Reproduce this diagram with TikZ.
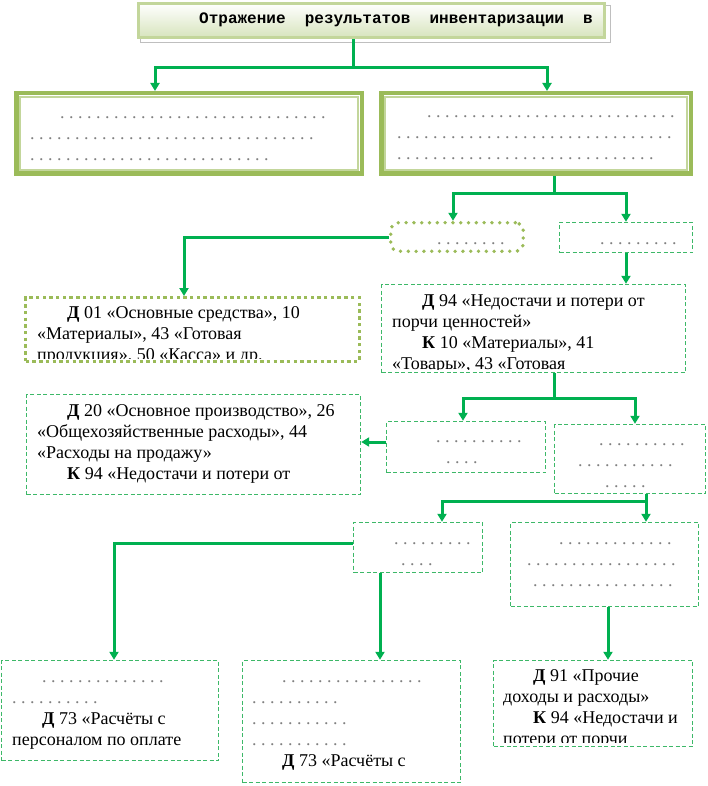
\documentclass[tikz,border=0pt]{standalone}
\usepackage{fontspec}
\setmainfont{Liberation Serif}
\newfontfamily\monofont{Liberation Mono}
\usetikzlibrary{arrows.meta,positioning,shapes}
\definecolor{linegreen}{HTML}{00B050}
\definecolor{dashgreen}{HTML}{3DB868}
\definecolor{olivegreen}{HTML}{9BBB59}
\definecolor{palegreen}{HTML}{C3D69B}
\definecolor{fadegreen}{HTML}{D7E4BD}
\definecolor{dotgray}{HTML}{808080}
\newcommand{\dotrow}[1]{\textcolor{dotgray}{\foreach \k in {1,...,#1}{.\hspace{4.5pt}}}}
\newcommand{\ind}{\hspace*{30pt}}
\begin{document}
\begin{tikzpicture}[x = 1pt, y = -1pt,
  conn/.style = {draw = linegreen, line width = 3pt, -{Triangle[width=9pt,length=8pt]}},
  dashbox/.style = {draw = dashgreen, line width = 1.4pt, dash pattern = on 4pt off 2.5pt},
  bigbox/.style = {draw = olivegreen, line width = 4.5pt},
  dotround/.style = {draw = olivegreen, line width = 3.8pt, line cap = round, dash pattern = on 0pt off 7.8pt, rounded corners = 8pt},
  dotsquare/.style = {draw = olivegreen, line width = 3.4pt, dash pattern = on 3.4pt off 3.3pt},
  txt/.style = {anchor = base west, align = left, inner sep = 0pt, font = \fontsize{18}{21}\selectfont}]
\useasboundingbox (0,0) rectangle (707,786);
% title
\draw[black!25, line width = 0.8pt] (140,5) rectangle (610,42);
\node[draw = palegreen, line width = 3pt, top color = white, bottom color = fadegreen, minimum width = 466pt, minimum height = 34pt] (title) at (371.5,20.5) {};
\node[anchor = base west, inner sep = 0pt, font = \monofont\bfseries\fontsize{16}{18}\selectfont] (titletext) at (199,24) {Отражение~~результатов~~инвентаризации~~в};
% two cases
\node[bigbox, minimum width = 345.5pt, minimum height = 80.5pt] (surcase) at (189,133.5) {};
\node[bigbox, minimum width = 309.5pt, minimum height = 80.5pt] (shortcase) at (536,133.5) {};
\draw[palegreen, line width = 1.2pt] ([shift={(6,6)}]surcase.north west) rectangle ([shift={(-6,-6)}]surcase.south east);
\draw[palegreen, line width = 1.2pt] ([shift={(6,6)}]shortcase.north west) rectangle ([shift={(-6,-6)}]shortcase.south east);
\node[txt] (surcasetxt) at (30,161) {\ind\dotrow{30}\\\dotrow{32}\\\dotrow{27}};
\node[txt] (shortcasetxt) at (397,160) {\ind\dotrow{28}\\\dotrow{31}\\\dotrow{29}};
% second level
\node[dotround, minimum width = 132.6pt, minimum height = 28.6pt] (surpost) at (457,237) {};
\node[txt] (surposttxt) at (437,244) {\dotrow{8}};
\node[dashbox, minimum width = 133pt, minimum height = 30pt] (shortpost) at (626,237.5) {};
\node[txt] (shortposttxt) at (600,244) {\dotrow{9}};
% entries
\node[dotsquare, minimum width = 333.5pt, minimum height = 63.5pt] (surplus) at (192.5,329.5) {};
\begin{scope}
\clip (surplus.north west) rectangle (surplus.south east |- 0,358);
\node[txt] (surplustxt) at (37,360) {\ind\textbf{Д} 01 «Основные средства», 10\\«Материалы», 43 «Готовая\\продукция», 50 «Касса» и др.};
\end{scope}
\node[dashbox, minimum width = 304pt, minimum height = 88pt] (shortage) at (533.5,328.5) {};
\begin{scope}
\clip (shortage.north west) rectangle (shortage.south east |- 0,369);
\node[txt] (shortagetxt) at (392,369) {\ind\textbf{Д} 94 «Недостачи и потери от\\порчи ценностей»\\\ind\textbf{К} 10 «Материалы», 41\\«Товары», 43 «Готовая};
\end{scope}
\node[dashbox, minimum width = 334pt, minimum height = 100pt] (costs) at (193.5,444.5) {};
\node[txt] (coststxt) at (37,479) {\ind\textbf{Д} 20 «Основное производство», 26\\«Общехозяйственные расходы», 44\\«Расходы на продажу»\\\ind\textbf{К} 94 «Недостачи и потери от};
\node[dashbox, minimum width = 159pt, minimum height = 51pt] (inlimit) at (466,447) {};
\node[txt] (inlimittxt) at (436,463) {\dotrow{10}\\\hspace*{10pt}\dotrow{4}};
\node[dashbox, minimum width = 151pt, minimum height = 69pt] (overlimit) at (630,459) {};
\node[txt] (overlimittxt) at (578,487) {\hspace*{21pt}\dotrow{10}\\\dotrow{11}\\\hspace*{27pt}\dotrow{5}};
\node[dashbox, minimum width = 129pt, minimum height = 50pt] (culprit) at (418,547.5) {};
\node[txt] (culprittxt) at (394,565) {\dotrow{9}\\\hspace*{7pt}\dotrow{4}};
\node[dashbox, minimum width = 188pt, minimum height = 84pt] (noculprit) at (604.5,564.5) {};
\node[txt] (noculprittxt) at (527,586) {\hspace*{32pt}\dotrow{13}\\\dotrow{17}\\\hspace*{6pt}\dotrow{16}};
% bottom row
\node[dashbox, minimum width = 217pt, minimum height = 100pt] (paybox) at (110,710.5) {};
\node[txt] (paytxt) at (12,745) {\ind\dotrow{14}\\\dotrow{10}\\\ind\textbf{Д} 73 «Расчёты с\\персоналом по оплате};
\node[dashbox, minimum width = 218pt, minimum height = 122pt] (claimbox) at (351.5,721.5) {};
\node[txt] (claimtxt) at (252,766) {\ind\dotrow{16}\\\dotrow{10}\\\dotrow{11}\\\dotrow{11}\\\ind\textbf{Д} 73 «Расчёты с};
\node[dashbox, minimum width = 199pt, minimum height = 86pt] (lossbox) at (593,703.5) {};
\begin{scope}
\clip (lossbox.north west) rectangle (lossbox.south east |- 0,742);
\node[txt] (losstxt) at (503,744) {\ind\textbf{Д} 91 «Прочие\\доходы и расходы»\\\ind\textbf{К} 94 «Недостачи и\\потери от порчи};
\end{scope}
% connectors
\coordinate (fork1) at (353,68);
\coordinate (fork2) at (554,194);
\coordinate (fork3) at (554,398);
\coordinate (fork4) at (646,501);
\draw[conn] (fork1 |- title.south) -- (fork1) -| (155,0 |- surcase.north);
\draw[conn] (fork1) -| (547,0 |- shortcase.north);
\draw[conn] (fork2 |- shortcase.south) -- (fork2) -| (453,0 |- surpost.north);
\draw[conn] (fork2) -| (shortpost.north);
\draw[conn] (surpost.west) -| (184,0 |- surplus.north);
\draw[conn] (shortpost.south) -- (shortpost.south |- shortage.north);
\draw[conn] (fork3 |- shortage.south) -- (fork3) -| (463,0 |- inlimit.north);
\draw[conn] (fork3) -| (635,0 |- overlimit.north);
\draw[conn] (inlimit.west |- 0,442) -- (costs.east |- 0,442);
\draw[conn] (fork4 |- overlimit.south) -- (fork4) -| (442,0 |- culprit.north);
\draw[conn] (fork4) -- (fork4 |- noculprit.north);
\draw[conn] (culprit.west |- 0,543) -| (114,0 |- paybox.north);
\draw[conn] (380,0 |- culprit.south) -- (380,0 |- claimbox.north);
\draw[conn] (608,0 |- noculprit.south) -- (608,0 |- lossbox.north);
\end{tikzpicture}
\end{document}
